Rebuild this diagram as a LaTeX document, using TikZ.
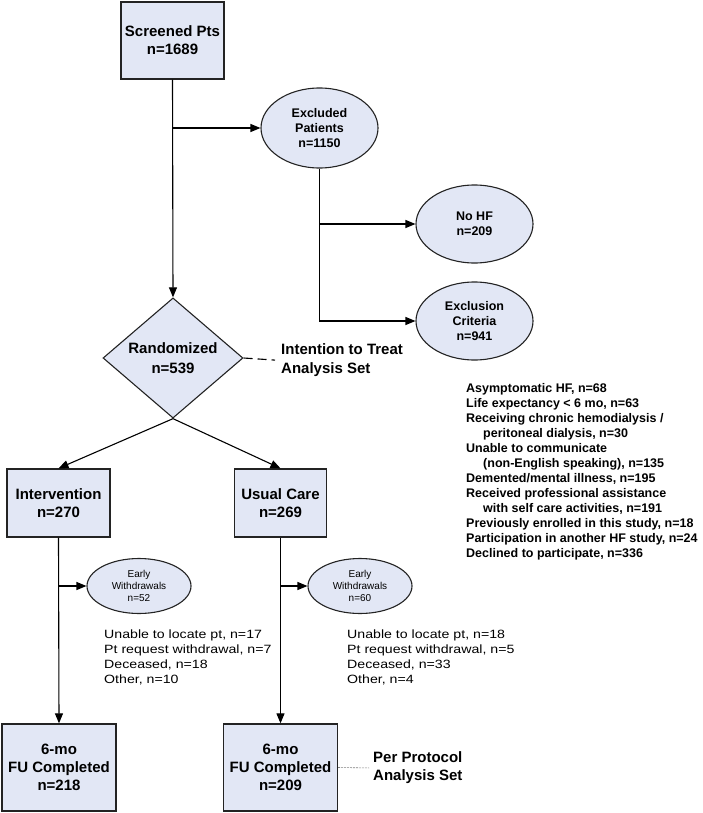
\documentclass[tikz,border=0pt]{standalone}
\usepackage{fontspec}
\setmainfont{Liberation Sans}
\newfontfamily\wideft[FakeStretch=1.18]{Liberation Sans}
\usetikzlibrary{shapes.geometric,arrows.meta}
\definecolor{boxfill}{RGB}{226,231,245}
\definecolor{edge}{RGB}{35,35,35}
\begin{document}
\begin{tikzpicture}[x=1pt,y=-1pt,
  box/.style={draw=edge,fill=boxfill,line width=1.3pt,inner sep=0pt,align=center,font=\fontsize{15}{18}\selectfont\bfseries},
  oval/.style={ellipse,draw=edge,fill=boxfill,line width=1.1pt,inner sep=0pt,align=center,font=\fontsize{12.5}{15}\selectfont\bfseries},
  smalloval/.style={ellipse,draw=edge,fill=boxfill,line width=1.1pt,inner sep=0pt,align=center,font=\fontsize{10}{12}\selectfont},
  dia/.style={diamond,draw=edge,fill=boxfill,line width=1.1pt,inner sep=0pt,align=center,font=\fontsize{15}{20}\selectfont\bfseries},
  conn/.style={line width=1.1pt,black},
  arr/.style={conn,-{Triangle[length=10pt,width=8pt]}},
  lbl/.style={inner sep=0pt,align=left,anchor=north west},
  side/.style={inner sep=0pt,align=left,anchor=west},
]
\useasboundingbox (0,0) rectangle (702,813);

\node[box,minimum width=103pt,minimum height=77pt] (scr) at (172.5,40.5) {Screened Pts\\n=1689};
\node[oval,minimum width=117pt,minimum height=80pt] (excl) at (319.5,128) {Excluded\\Patients\\n=1150};
\node[oval,minimum width=117pt,minimum height=78pt] (nohf) at (474.5,224) {No HF\\n=209};
\node[oval,minimum width=117pt,minimum height=78pt] (crit) at (474.5,321) {Exclusion\\Criteria\\n=941};
\node[dia,minimum width=140pt,minimum height=110pt] (rand) at (173,358) {Randomized\\n=539};
\node[side,font=\fontsize{15}{19}\selectfont\bfseries] (itt) at (281,360.5) {Intention to Treat\\Analysis Set};

\node[lbl,font=\fontsize{12.5}{15}\selectfont\bfseries] (exl) at (466,383.5) {Asymptomatic HF, n=68\\
Life expectancy < 6 mo, n=63\\
Receiving chronic hemodialysis /\\
\hspace*{17pt}peritoneal dialysis, n=30\\
Unable to communicate\\
\hspace*{17pt}(non-English speaking), n=135\\
Demented/mental illness, n=195\\
Received professional assistance\\
\hspace*{17pt}with self care activities, n=191\\
Previously enrolled in this study, n=18\\
Participation in another HF study, n=24\\
Declined to participate, n=336};

\node[box,minimum width=103pt,minimum height=68pt] (intv) at (58.5,503) {Intervention\\n=270};
\node[box,minimum width=92pt,minimum height=68pt] (uc) at (280.5,503) {Usual Care\\n=269};

\node[smalloval,minimum width=104pt,minimum height=55pt] (ew1) at (139,586) {Early\\Withdrawals\\n=52};
\node[smalloval,minimum width=104pt,minimum height=55pt] (ew2) at (360,586) {Early\\Withdrawals\\n=60};

\node[lbl,font=\wideft\fontsize{12}{15}\selectfont] (wl1) at (104,629.5) {Unable to locate pt, n=17\\
Pt request withdrawal, n=7\\
Deceased, n=18\\
Other, n=10};
\node[lbl,font=\wideft\fontsize{12}{15}\selectfont] (wl2) at (347,629.5) {Unable to locate pt, n=18\\
Pt request withdrawal, n=5\\
Deceased, n=33\\
Other, n=4};

\node[box,minimum width=114pt,minimum height=87pt] (fu1) at (59,767.5) {6-mo\\FU Completed\\n=218};
\node[box,minimum width=114pt,minimum height=87pt] (fu2) at (280.5,767.5) {6-mo\\FU Completed\\n=209};
\node[side,font=\fontsize{15}{18}\selectfont\bfseries] (pp) at (373,768) {Per Protocol\\Analysis Set};

% connectors
\draw[arr] (scr.south) -- (rand.north);
\coordinate (b1) at (scr.south |- excl.west);
\draw[arr] (b1) -- (excl.west);
\draw[arr] (excl.south) |- (crit.west);
\draw[arr] (excl.south |- nohf.west) -- (nohf.west);
\draw[conn,dash pattern=on 9pt off 5pt,shorten >=6pt] (rand.east) -- (itt.west);
\draw[arr] (rand.south) -- (intv.north);
\draw[arr] (rand.south) -- (uc.north);
\draw[arr] (intv.south) -- (fu1.north);
\draw[arr] (intv.south |- ew1.west) -- (ew1.west);
\draw[arr] (uc.south) -- (fu2.north);
\draw[arr] (uc.south |- ew2.west) -- (ew2.west);
\draw[gray,line width=0.6pt,dash pattern=on 2pt off 1pt,shorten >=4pt] (fu2.east) -- (pp.west);
\end{tikzpicture}
\end{document}
